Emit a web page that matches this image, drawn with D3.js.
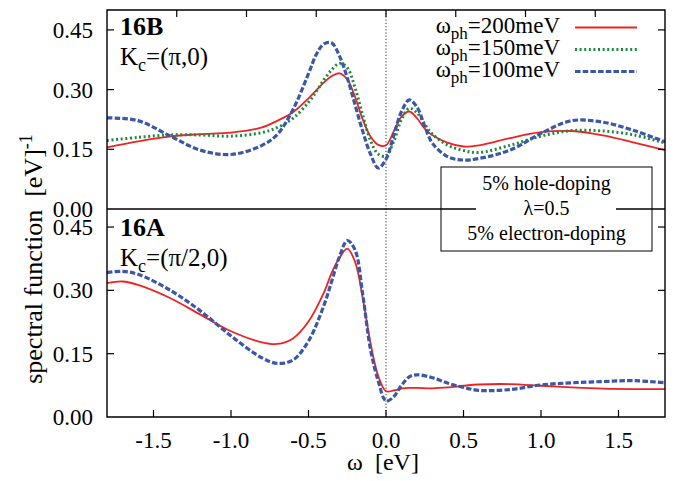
<!DOCTYPE html>
<html>
<head>
<meta charset="utf-8">
<script src="https://cdn.jsdelivr.net/npm/d3@7"></script>
<style>
  body { margin: 0; background: #fff; }
  svg { display: block; font-family: "Liberation Serif", "Times New Roman", serif; }
</style>
</head>
<body>
<svg id="chart" width="684" height="481"></svg>
<script>
// ---------------- data ----------------
const omegaTop = [-1.8,-1.6,-1.4,-1.2,-1.0,-0.8,-0.7,-0.6,-0.5,-0.45,-0.4,-0.35,-0.3,-0.25,-0.2,-0.15,-0.1,-0.05,0,0.05,0.1,0.15,0.2,0.25,0.3,0.4,0.5,0.6,0.8,1.0,1.2,1.4,1.6,1.8];
const top200 = [0.155,0.170,0.182,0.188,0.192,0.205,0.222,0.243,0.278,0.298,0.318,0.334,0.341,0.326,0.282,0.225,0.182,0.161,0.160,0.195,0.232,0.245,0.228,0.202,0.185,0.166,0.157,0.160,0.178,0.193,0.196,0.185,0.167,0.148];
const top150 = [0.172,0.180,0.186,0.186,0.183,0.192,0.205,0.228,0.268,0.295,0.325,0.350,0.366,0.355,0.305,0.235,0.172,0.138,0.133,0.170,0.225,0.253,0.242,0.213,0.188,0.160,0.147,0.142,0.160,0.183,0.197,0.196,0.186,0.166];
const top100 = [0.229,0.222,0.185,0.148,0.137,0.160,0.188,0.250,0.340,0.388,0.415,0.417,0.384,0.330,0.262,0.195,0.138,0.103,0.125,0.185,0.245,0.274,0.256,0.208,0.165,0.131,0.123,0.127,0.148,0.190,0.222,0.218,0.197,0.169];

const omegaBot = [-1.8,-1.7,-1.6,-1.4,-1.2,-1.0,-0.8,-0.7,-0.6,-0.5,-0.4,-0.35,-0.3,-0.25,-0.2,-0.15,-0.1,-0.05,0,0.05,0.1,0.15,0.2,0.3,0.4,0.5,0.6,0.8,1.0,1.2,1.4,1.6,1.8];
const bot200 = [0.317,0.321,0.313,0.283,0.243,0.203,0.177,0.173,0.186,0.226,0.295,0.342,0.377,0.399,0.368,0.282,0.175,0.097,0.061,0.063,0.067,0.069,0.069,0.068,0.070,0.074,0.077,0.078,0.074,0.070,0.067,0.066,0.066];
const bot100 = [0.342,0.345,0.338,0.302,0.252,0.192,0.140,0.127,0.135,0.180,0.265,0.322,0.380,0.418,0.396,0.290,0.160,0.085,0.038,0.048,0.075,0.095,0.100,0.093,0.080,0.070,0.063,0.065,0.076,0.081,0.084,0.086,0.081];

const xTicks = [-1.5,-1.0,-0.5,0.0,0.5,1.0,1.5];
const xTickLabels = ["-1.5","-1.0","-0.5","0.0","0.5","1.0","1.5"];
const xTopTicks = [-1.35,-0.9,-0.45,0,0.45,0.9,1.35];
const yTicks = [0,0.15,0.30,0.45];
const yTickLabels = ["0.00","0.15","0.30","0.45"];
const legendLabels = ["200meV","150meV","100meV"];
const boxLines = ["5% hole-doping","λ=0.5","5% electron-doping"];

// ---------------- layout ----------------
const svg = d3.select("#chart");
const L = 107, R = 665, T = 10, MID = 209, B = 417;
const x = d3.scaleLinear().domain([-1.8,1.8]).range([L,R]);
const yTop = d3.scaleLinear().domain([0,0.5]).range([MID,T]);
const yBot = d3.scaleLinear().domain([0,0.4927]).range([B,MID]);

const styles = [
  {color:"#ee2222", width:1.8, dash:null},
  {color:"#1f8a3c", width:3, dash:"2,2.6"},
  {color:"#3a57a8", width:3.2, dash:"5.5,2.2"}
];

const defs = svg.append("defs");
defs.append("clipPath").attr("id","clipTop").append("rect")
  .attr("x",L).attr("y",T).attr("width",R-L).attr("height",MID-T);
defs.append("clipPath").attr("id","clipBot").append("rect")
  .attr("x",L).attr("y",MID).attr("width",R-L).attr("height",B-MID);

// zero dotted lines
svg.append("line").attr("x1",x(0)).attr("x2",x(0)).attr("y1",T).attr("y2",B)
  .attr("stroke","#000").attr("stroke-width",0.8).attr("stroke-dasharray","1.2,2");

function drawSeries(yScale, xs, ys, st, clip) {
  const line = d3.line().x((d,i)=>x(xs[i])).y(d=>yScale(d)).curve(d3.curveCatmullRom.alpha(0.5));
  const p = svg.append("path").datum(ys).attr("d",line)
    .attr("fill","none").attr("stroke",st.color).attr("stroke-width",st.width)
    .attr("clip-path","url(#"+clip+")");
  if (st.dash) p.attr("stroke-dasharray",st.dash);
}
drawSeries(yTop, omegaTop, top200, styles[0], "clipTop");
drawSeries(yTop, omegaTop, top150, styles[1], "clipTop");
drawSeries(yTop, omegaTop, top100, styles[2], "clipTop");
drawSeries(yBot, omegaBot, bot200, styles[0], "clipBot");
drawSeries(yBot, omegaBot, bot100, styles[2], "clipBot");

// frames
const frame = svg.append("g").attr("fill","none").attr("stroke","#000").attr("stroke-width",1.4);
frame.append("path").attr("d",`M${L},${MID}V${T}H${R}V${B}H${L}Z`);
frame.append("line").attr("x1",L).attr("x2",R).attr("y1",MID).attr("y2",MID);

// ticks
const tk = svg.append("g").attr("stroke","#000").attr("stroke-width",1.2);
const tl = 7;
yTicks.forEach(v=>{
  if (v>0) {
    tk.append("line").attr("x1",L).attr("x2",L+tl).attr("y1",yTop(v)).attr("y2",yTop(v));
    tk.append("line").attr("x1",R).attr("x2",R-tl).attr("y1",yTop(v)).attr("y2",yTop(v));
    tk.append("line").attr("x1",L).attr("x2",L+tl).attr("y1",yBot(v)).attr("y2",yBot(v));
    tk.append("line").attr("x1",R).attr("x2",R-tl).attr("y1",yBot(v)).attr("y2",yBot(v));
  }
});
xTicks.forEach(v=>{
  tk.append("line").attr("x1",x(v)).attr("x2",x(v)).attr("y1",B).attr("y2",B-tl);
});
xTopTicks.forEach(v=>{
  tk.append("line").attr("x1",x(v)).attr("x2",x(v)).attr("y1",T).attr("y2",T+tl);
});

// tick labels
const lab = svg.append("g").attr("font-size",23).attr("fill","#000");
yTicks.forEach((v,i)=>{
  lab.append("text").attr("x",93).attr("y",yTop(v)).attr("dy","0.35em").attr("text-anchor","end").text(yTickLabels[i]);
  lab.append("text").attr("x",93).attr("y",yBot(v)).attr("dy","0.35em").attr("text-anchor","end").text(yTickLabels[i]);
});
xTicks.forEach((v,i)=>{
  lab.append("text").attr("x",x(v)).attr("y",448).attr("text-anchor","middle").text(xTickLabels[i]);
});

// axis titles
const xt = svg.append("text").attr("x",383).attr("y",470).attr("text-anchor","middle").attr("font-size",24)
  .style("white-space","pre");
xt.text("ω  [eV]");

const yt = svg.append("text").attr("transform","translate(42,259) rotate(-90)")
  .attr("text-anchor","middle").attr("font-size",26).style("white-space","pre");
yt.append("tspan").text("spectral function  [eV]");
yt.append("tspan").attr("dy",-10).attr("font-size",18).text("-1");

// panel labels
function panelLabel(yb, name, kc) {
  svg.append("text").attr("x",120).attr("y",yb).attr("font-size",26).attr("font-weight","bold").text(name);
  const t = svg.append("text").attr("x",120).attr("y",yb+30).attr("font-size",25);
  t.append("tspan").text("K");
  t.append("tspan").attr("dy",6).attr("font-size",18).text("c");
  t.append("tspan").attr("dy",-6).text(kc);
}
panelLabel(35, "16B", "=(π,0)");
panelLabel(236, "16A", "=(π/2,0)");

// legend
const legY = [33, 55, 77];
legendLabels.forEach((s,i)=>{
  const t = svg.append("text").attr("x",560).attr("y",legY[i]).attr("font-size",23).attr("text-anchor","end");
  t.append("tspan").text("ω");
  t.append("tspan").attr("dy",6).attr("font-size",17).text("ph");
  t.append("tspan").attr("dy",-6).text("="+s);
  const st = styles[i];
  const ln = svg.append("line").attr("x1",575).attr("x2",637).attr("y1",legY[i]-5.5).attr("y2",legY[i]-5.5)
    .attr("stroke",st.color).attr("stroke-width",st.width);
  if (st.dash) ln.attr("stroke-dasharray",st.dash);
});

// info box
svg.append("rect").attr("x",441).attr("y",167).attr("width",211).attr("height",84)
  .attr("fill","none").attr("stroke","#000").attr("stroke-width",1);
svg.append("rect").attr("x",476).attr("y",201).attr("width",140).attr("height",17).attr("fill","#fff");
const boxY = [190, 215, 240];
boxLines.forEach((s,i)=>{
  svg.append("text").attr("x",546.5).attr("y",boxY[i]).attr("text-anchor","middle").attr("font-size",20).text(s);
});
</script>
</body>
</html>
